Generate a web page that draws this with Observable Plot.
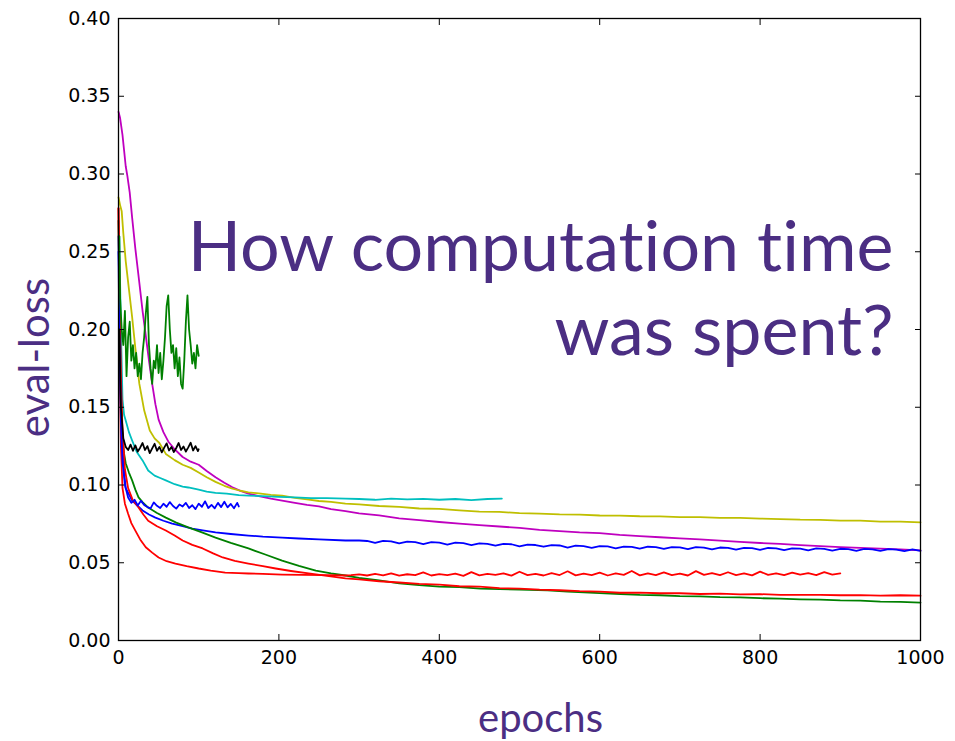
<!DOCTYPE html>
<html>
<head>
<meta charset="utf-8">
<script src="https://cdn.jsdelivr.net/npm/d3@7"></script>
<script src="https://cdn.jsdelivr.net/npm/@observablehq/plot@0.6"></script>
<style>
  html, body { margin: 0; padding: 0; background: white; }
  #chart { width: 955px; height: 741px; }
  #chart text { font-variant-ligatures: none; font-feature-settings: "liga" 0, "clig" 0; }
</style>
</head>
<body>
<div id="chart"></div>
<script>
// ---------- data ----------
const xTicks = [0, 200, 400, 600, 800, 1000];
const yTicks = [0, 0.05, 0.10, 0.15, 0.20, 0.25, 0.30, 0.35, 0.40];
const titleText = "How computation time\nwas spent?";
const xLabelText = "epochs";
const yLabelText = "eval-loss";

const magentaEpochs = [0,2,5,7,9,11,14,17,21,26,30,34,38,42,46,50,56,62,70,80,90,100,110,121,132,142,152,162,175,190,204,220,235,250,265,283,300,325,350,375,400,425,450,475,500,525,550,575,600,625,650,675,700,725,750,775,800,825,850,875,900,925,950,975,1000];
const magentaLoss = [0.340,0.336,0.325,0.315,0.305,0.299,0.288,0.272,0.252,0.230,0.212,0.196,0.180,0.165,0.152,0.142,0.134,0.128,0.123,0.118,0.115,0.113,0.109,0.105,0.1015,0.0985,0.0962,0.0945,0.0928,0.0912,0.0900,0.0885,0.0872,0.0862,0.0845,0.0832,0.0818,0.0805,0.0786,0.0774,0.0762,0.0751,0.0742,0.0733,0.0724,0.0712,0.0703,0.0695,0.0690,0.0679,0.0671,0.0664,0.0657,0.0650,0.0642,0.0634,0.0627,0.0621,0.0613,0.0607,0.0601,0.0596,0.0591,0.0586,0.0579];

const yellowEpochs = [0,2,4,6,9,13,17,21,26,32,39,45,51,59,70,80,90,100,110,121,132,142,152,162,175,190,204,220,235,250,265,283,300,325,350,375,400,425,450,475,500,525,550,575,600,625,650,675,700,725,750,775,800,825,850,875,900,925,950,975,1000];
const yellowLoss = [0.285,0.280,0.276,0.262,0.244,0.226,0.208,0.188,0.165,0.148,0.135,0.130,0.127,0.120,0.116,0.113,0.111,0.108,0.105,0.102,0.0995,0.0977,0.0963,0.0952,0.0946,0.0937,0.0931,0.0917,0.0907,0.0897,0.0891,0.0880,0.0876,0.0865,0.0859,0.0849,0.0846,0.0837,0.0829,0.0827,0.0819,0.0816,0.0811,0.0809,0.0804,0.0803,0.0799,0.0798,0.0794,0.0793,0.0789,0.0788,0.0784,0.0781,0.0777,0.0776,0.0771,0.0771,0.0765,0.0764,0.0760];

const cyanEpochs = [1,3,5,7,9,13,17,23,30,37,45,52,59,70,80,87,100,110,121,135,150,162,180,200,220,240,260,283,300,320,340,360,380,400,420,440,460,478];
const cyanLoss = [0.260,0.200,0.155,0.145,0.1415,0.134,0.1286,0.121,0.1158,0.1093,0.1060,0.1045,0.1030,0.1005,0.0990,0.0984,0.0970,0.0958,0.0950,0.0945,0.0935,0.0932,0.0928,0.0924,0.0920,0.0916,0.0915,0.0913,0.0910,0.0905,0.0912,0.0907,0.0911,0.0905,0.0910,0.0903,0.0910,0.0913];

const blueEpochs = [0,1,3,5,7,9,13,17,23,30,38,46,56,67,80,92,105,121,140,162,180,204,225,250,283,300,310,320,330,340,350,360,370,380,390,400,410,420,430,440,450,460,470,480,490,500,510,520,530,540,550,560,570,580,590,600,610,620,630,640,650,660,670,680,690,700,710,720,730,740,750,760,770,780,790,800,810,820,830,840,850,860,870,880,890,900,910,920,930,940,950,960,970,980,990,1000];
const blueLoss = [0.260,0.220,0.160,0.125,0.108,0.098,0.094,0.090,0.087,0.0836,0.0810,0.0790,0.0770,0.0752,0.0735,0.0720,0.0708,0.0695,0.0685,0.0675,0.0668,0.0662,0.0656,0.0650,0.0643,0.0643,0.0640,0.0628,0.0641,0.0637,0.0624,0.0636,0.0633,0.0620,0.0632,0.0629,0.0617,0.0630,0.0626,0.0614,0.0625,0.0622,0.0610,0.0621,0.0619,0.0605,0.0617,0.0614,0.0603,0.0613,0.0611,0.0598,0.0610,0.0607,0.0596,0.0607,0.0605,0.0593,0.0604,0.0602,0.0591,0.0603,0.0600,0.0589,0.0601,0.0599,0.0587,0.0600,0.0597,0.0586,0.0598,0.0596,0.0584,0.0596,0.0594,0.0583,0.0595,0.0592,0.0581,0.0593,0.0591,0.0580,0.0592,0.0589,0.0578,0.0590,0.0587,0.0577,0.0589,0.0586,0.0576,0.0587,0.0585,0.0575,0.0586,0.0576];

const greenEpochs = [0,1,3,5,7,9,13,17,21,25,30,37,48,59,72,87,104,121,140,162,183,204,225,246,265,283,300,325,350,375,400,425,451,475,500,535,560,600,626,650,675,700,725,750,775,800,825,850,875,900,925,950,975,1000];
const greenLoss = [0.270,0.220,0.160,0.130,0.120,0.114,0.108,0.103,0.097,0.092,0.089,0.0855,0.0820,0.0790,0.0758,0.0727,0.0695,0.0662,0.0628,0.0592,0.0553,0.0514,0.0480,0.0450,0.0432,0.0418,0.0402,0.0386,0.0368,0.0356,0.0347,0.0343,0.0334,0.0331,0.0327,0.0323,0.0314,0.0305,0.0299,0.0293,0.0291,0.0286,0.0284,0.0279,0.0277,0.0272,0.0269,0.0265,0.0263,0.0258,0.0256,0.0250,0.0249,0.0244];

const redSlowEpochs = [0,1,3,5,8,12,18,25,31,37,48,59,70,80,92,105,118,130,145,162,180,196,215,237,260,283,300,325,350,375,400,425,450,475,500,525,550,575,600,625,650,675,700,725,750,775,800,825,850,875,900,925,950,975,1000];
const redSlowLoss = [0.278,0.240,0.170,0.135,0.110,0.098,0.090,0.0855,0.0810,0.0770,0.0735,0.0707,0.0675,0.0643,0.0615,0.0592,0.0560,0.0534,0.0512,0.0495,0.0478,0.0463,0.0447,0.0431,0.0415,0.0400,0.0393,0.0381,0.0373,0.0364,0.0359,0.0349,0.0346,0.0337,0.0334,0.0327,0.0323,0.0317,0.0314,0.0307,0.0308,0.0304,0.0304,0.0299,0.0302,0.0297,0.0298,0.0294,0.0294,0.0293,0.0291,0.0292,0.0289,0.0291,0.0288];

const redFastEpochs = [0,1,2,3,5,8,12,16,21,27,34,42,50,60,71,85,100,115,133,150,162,180,204,230,260,283,290,300,310,320,330,340,350,360,370,380,390,400,410,420,430,440,450,460,470,480,490,500,510,520,530,540,550,560,570,580,590,600,610,620,630,640,650,660,670,680,690,700,710,720,730,740,750,760,770,780,790,800,810,820,830,840,850,860,870,880,890,900];
const redFastLoss = [0.278,0.220,0.160,0.125,0.098,0.088,0.0815,0.0755,0.0707,0.0650,0.0600,0.0565,0.0534,0.0510,0.0495,0.0478,0.0463,0.0450,0.0437,0.0433,0.0431,0.0428,0.0424,0.0422,0.0420,0.0418,0.0420,0.0425,0.0418,0.0428,0.0419,0.0432,0.0417,0.0426,0.0421,0.0438,0.0418,0.0427,0.0420,0.0430,0.0416,0.0440,0.0419,0.0428,0.0422,0.0431,0.0417,0.0442,0.0420,0.0429,0.0418,0.0433,0.0421,0.0445,0.0419,0.0430,0.0420,0.0436,0.0418,0.0431,0.0422,0.0447,0.0419,0.0432,0.0421,0.0438,0.0420,0.0430,0.0418,0.0446,0.0422,0.0433,0.0420,0.0439,0.0421,0.0431,0.0419,0.0443,0.0422,0.0432,0.0420,0.0437,0.0423,0.0433,0.0421,0.0440,0.0424,0.0432];

const blueShortEpochs = [0,1,3,5,8,12,16,20,24,28,32,36,40,44,48,52,56,60,64,68,72,76,80,84,88,92,96,100,104,108,112,116,120,124,128,132,136,140,144,148,150];
const blueShortLoss = [0.250,0.200,0.140,0.115,0.100,0.092,0.0885,0.0905,0.0868,0.0898,0.0872,0.0858,0.0850,0.0888,0.0866,0.0852,0.0880,0.0860,0.0890,0.0865,0.0848,0.0875,0.0862,0.0885,0.0852,0.0870,0.0845,0.0880,0.0860,0.0895,0.0852,0.0872,0.0850,0.0885,0.0858,0.0892,0.0856,0.0878,0.0850,0.0885,0.0862];

const blackEpochs = [1,3,6,9,12,15,18,21,24,27,30,33,36,39,42,45,48,51,54,57,60,63,66,69,72,75,78,81,84,87,90,93,96,99,100];
const blackLoss = [0.200,0.150,0.130,0.1245,0.1225,0.1260,0.1220,0.1255,0.1215,0.1240,0.1270,0.1225,0.1250,0.1205,0.1235,0.1265,0.1220,0.1245,0.1210,0.1240,0.1268,0.1222,0.1245,0.1212,0.1238,0.1270,0.1225,0.1248,0.1215,0.1242,0.1272,0.1222,0.1250,0.1218,0.1230];

const greenNoisyEpochs = [1,2,4,6,8,10,12,14,16,18,20,22,24,26,28,30,32,34,36,38,40,42,44,46,48,50,52,54,56,58,60,62,64,66,68,70,72,74,76,78,80,82,84,86,88,90,92,94,96,98,100];
const greenNoisyLoss = [0.260,0.220,0.200,0.190,0.212,0.170,0.195,0.205,0.180,0.190,0.175,0.185,0.170,0.178,0.168,0.185,0.195,0.210,0.221,0.190,0.175,0.165,0.180,0.175,0.190,0.172,0.185,0.168,0.180,0.195,0.215,0.222,0.200,0.185,0.190,0.175,0.188,0.170,0.182,0.165,0.162,0.180,0.205,0.222,0.200,0.190,0.178,0.185,0.175,0.190,0.183];

const seriesNames = ["magenta","yellow","cyan","blue","green","redSlow","redFast","blueShort","black","greenNoisy"];
const seriesColors = ["#bf00bf","#bfbf00","#00bfbf","#0000ff","#008000","#ff0000","#ff0000","#0000ff","#000000","#008000"];
const seriesEpochs = [magentaEpochs,yellowEpochs,cyanEpochs,blueEpochs,greenEpochs,redSlowEpochs,redFastEpochs,blueShortEpochs,blackEpochs,greenNoisyEpochs];
const seriesLoss = [magentaLoss,yellowLoss,cyanLoss,blueLoss,greenLoss,redSlowLoss,redFastLoss,blueShortLoss,blackLoss,greenNoisyLoss];

// ---------- build table ----------
const rows = seriesNames.flatMap((name, i) =>
  seriesEpochs[i].map((e, j) => ({series: name, color: seriesColors[i], epoch: e, loss: seriesLoss[i][j]}))
);

const purple = "#4B2E83";

const chart = Plot.plot({
  width: 955,
  height: 741,
  marginLeft: 118,
  marginRight: 35,
  marginTop: 18,
  marginBottom: 101,
  style: {fontFamily: "DejaVu Sans", background: "white", color: "black", overflow: "visible"},
  x: {domain: [0, 1000]},
  y: {domain: [0, 0.4]},
  color: {type: "identity"},
  marks: [
    Plot.line(rows, {x: "epoch", y: "loss", z: "series", stroke: "color", strokeWidth: 1.8}),
    Plot.frame({stroke: "black", strokeWidth: 1.3}),
    Plot.axisX(xTicks, {anchor: "bottom", tickSize: 0, tickPadding: 10, tickFormat: d => String(d), label: null, fontSize: 19}),
    Plot.axisX(xTicks, {anchor: "bottom", tickSize: -6, tickFormat: () => "", label: null}),
    Plot.axisX(xTicks, {anchor: "top", tickSize: -6, tickFormat: () => "", label: null}),
    Plot.axisY(yTicks, {anchor: "left", tickSize: 0, tickPadding: 8, tickFormat: d3.format(".2f"), label: null, fontSize: 19}),
    Plot.axisY(yTicks, {anchor: "left", tickSize: -6, tickFormat: () => "", label: null}),
    Plot.axisY(yTicks, {anchor: "right", tickSize: -6, tickFormat: () => "", label: null}),
    Plot.text([titleText], {text: d => d, frameAnchor: "top-right", textAnchor: "end", lineAnchor: "top", lineHeight: 1.21, dx: -27, dy: 192, fontSize: 70, fontFamily: "Lato", fill: purple}),
    Plot.text([yLabelText], {text: d => d, frameAnchor: "left", textAnchor: "middle", lineAnchor: "middle", rotate: -90, dx: -83, dy: 28, fontSize: 42, fontFamily: "Lato", fill: purple}),
    Plot.text([xLabelText], {text: d => d, frameAnchor: "bottom", textAnchor: "middle", lineAnchor: "middle", dx: 21, dy: 79, fontSize: 40, fontFamily: "Lato", fill: purple})
  ]
});
document.getElementById("chart").appendChild(chart);
</script>
</body>
</html>
